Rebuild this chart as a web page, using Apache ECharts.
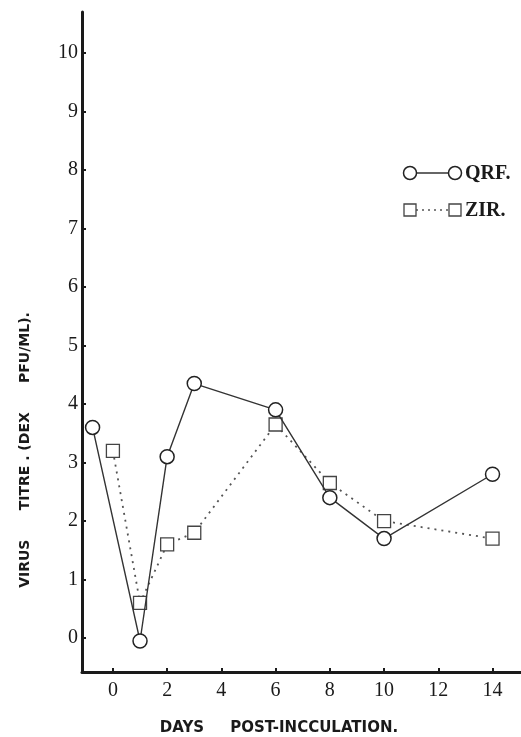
<html>
    <head>
        <meta charset="utf-8">
        <script src="https://cdn.jsdelivr.net/npm/echarts@6/dist/echarts.min.js"></script>
    </head>
    <body style="margin:0">
        <style>
            html, body, #main {
                width: 521px;
                height: 737px;
                background: #fff;
            }
        </style>
        <div id="main"></div>
        <script>
            // values
            var dayTicks = [0, 2, 4, 6, 8, 10, 12, 14];
            var titreTicks = [0, 1, 2, 3, 4, 5, 6, 7, 8, 9, 10];
            var qrfDays = [-0.75, 1, 2, 3, 6, 8, 10, 14];
            var qrfTitre = [3.6, -0.05, 3.1, 4.35, 3.9, 2.4, 1.7, 2.8];
            var zirDays = [0, 1, 2, 3, 6, 8, 10, 14];
            var zirTitre = [3.2, 0.6, 1.6, 1.8, 3.65, 2.65, 2.0, 1.7];

            function pairs(xs, ys) {
                var out = [];
                for (var i = 0; i < xs.length; i++) {
                    out.push([xs[i], ys[i]]);
                }
                return out;
            }

            var ink = '#1a1a1a';
            var serif = '"Liberation Serif", "DejaVu Serif", serif';
            var sans = '"DejaVu Sans", sans-serif';

            var chart = echarts.init(document.getElementById('main'));

            chart.setOption({
                animation: false,
                backgroundColor: '#fff',
                grid: {
                    left: 82,
                    right: 0,
                    top: 12,
                    bottom: 65
                },
                xAxis: {
                    type: 'value',
                    min: -1.14,
                    max: 15.05,
                    splitLine: { show: false },
                    axisLine: { onZero: false, lineStyle: { color: ink, width: 3 } },
                    axisTick: {
                        inside: true,
                        length: 4,
                        customValues: dayTicks,
                        lineStyle: { color: ink, width: 2 }
                    },
                    axisLabel: {
                        customValues: dayTicks,
                        margin: 9,
                        color: ink,
                        fontFamily: serif,
                        fontSize: 20
                    }
                },
                yAxis: {
                    type: 'value',
                    min: -0.58,
                    max: 10.7,
                    splitLine: { show: false },
                    axisLine: { onZero: false, lineStyle: { color: ink, width: 3 } },
                    axisTick: {
                        inside: true,
                        length: 4,
                        customValues: titreTicks,
                        lineStyle: { color: ink, width: 2 }
                    },
                    axisLabel: {
                        customValues: titreTicks,
                        margin: 4,
                        color: ink,
                        fontFamily: serif,
                        fontSize: 20
                    }
                },
                graphic: [
                    {
                        type: 'text',
                        x: 25,
                        y: 450,
                        rotation: Math.PI / 2,
                        style: {
                            text: 'VIRUS      TITRE . (DEX      PFU/ML).',
                            fill: ink,
                            font: 'bold 14px ' + sans,
                            align: 'center',
                            verticalAlign: 'middle'
                        }
                    },
                    {
                        type: 'text',
                        x: 279,
                        y: 728,
                        style: {
                            text: 'DAYS     POST-INCCULATION.',
                            fill: ink,
                            font: 'bold 15px ' + sans,
                            align: 'center',
                            verticalAlign: 'middle'
                        }
                    },
                    // legend
                    {
                        type: 'line',
                        shape: { x1: 410, y1: 173, x2: 455, y2: 173 },
                        style: { stroke: '#333', lineWidth: 1.5 }
                    },
                    {
                        type: 'circle',
                        shape: { cx: 410, cy: 173, r: 6.5 },
                        style: { fill: '#fff', stroke: '#222', lineWidth: 1.5 }
                    },
                    {
                        type: 'circle',
                        shape: { cx: 455, cy: 173, r: 6.5 },
                        style: { fill: '#fff', stroke: '#222', lineWidth: 1.5 }
                    },
                    {
                        type: 'text',
                        x: 465,
                        y: 174,
                        style: {
                            text: 'QRF.',
                            fill: ink,
                            font: 'bold 20px ' + serif,
                            verticalAlign: 'middle'
                        }
                    },
                    {
                        type: 'line',
                        shape: { x1: 410, y1: 210, x2: 455, y2: 210 },
                        style: { stroke: '#555', lineWidth: 1.5, lineDash: [2, 4] }
                    },
                    {
                        type: 'rect',
                        shape: { x: 404, y: 204, width: 12, height: 12 },
                        style: { fill: '#fff', stroke: '#444', lineWidth: 1.3 }
                    },
                    {
                        type: 'rect',
                        shape: { x: 449, y: 204, width: 12, height: 12 },
                        style: { fill: '#fff', stroke: '#444', lineWidth: 1.3 }
                    },
                    {
                        type: 'text',
                        x: 465,
                        y: 211,
                        style: {
                            text: 'ZIR.',
                            fill: ink,
                            font: 'bold 20px ' + serif,
                            verticalAlign: 'middle'
                        }
                    }
                ],
                series: [
                    {
                        name: 'ZIR.',
                        type: 'line',
                        data: pairs(zirDays, zirTitre),
                        symbol: 'rect',
                        symbolSize: 13,
                        lineStyle: { color: '#555', width: 1.8, type: [2, 5] },
                        itemStyle: { color: '#fff', borderColor: '#444', borderWidth: 1.3 },
                        z: 2
                    },
                    {
                        name: 'QRF.',
                        type: 'line',
                        data: pairs(qrfDays, qrfTitre),
                        symbol: 'circle',
                        symbolSize: 14,
                        lineStyle: { color: '#333', width: 1.4 },
                        itemStyle: { color: '#fff', borderColor: '#222', borderWidth: 1.5 },
                        z: 3
                    }
                ]
            });
        </script>
    </body>
</html>
